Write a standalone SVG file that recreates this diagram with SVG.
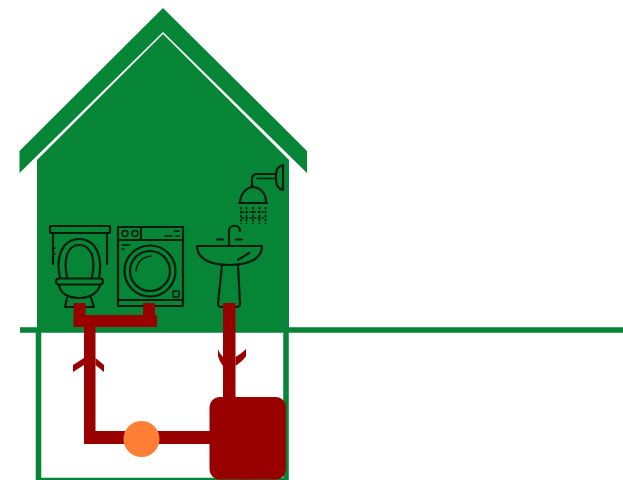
<svg xmlns="http://www.w3.org/2000/svg" width="623" height="480" viewBox="0 0 623 480">
<style>
.g{fill:#068536}
.ln{fill:none;stroke:#068536;stroke-width:5.5}
.p{fill:#990000}
.i{fill:none;stroke:#021a0b;stroke-width:2.200;stroke-linejoin:round;stroke-linecap:round}
.t{fill:none;stroke:#021a0b;stroke-width:1.500;stroke-linecap:round}
</style>
<rect width="623" height="480" fill="#fff"/>
<g id="house">
<polygon class="g" points="163,8 307,151 307,173 163,32 19.500,173 19.500,151"/>
<polygon class="g" points="163,34 289,160 289,330 37,330 37,160"/>
</g>
<g id="ground">
<path class="ln" d="M20 330H623"/>
<path class="ln" d="M38.500 330V480.500H286V330"/>
</g>
<g id="toilet">
<rect class="i" x="50" y="226" width="60" height="7" rx="1"/>
<path class="i" d="M53 233V264M107 233V264"/>
<path class="t" d="M53 248H55M53 254H55"/>
<path class="i" d="M60 278C55 256 63 239 79 239C96 239 103 256 99 278"/>
<path class="i" d="M67 277C63 258 68 245 79 245C91 245 96 258 92 277"/>
<rect class="i" x="56" y="278.500" width="47" height="6" rx="3"/>
<path class="i" d="M59 285C60 293 68 298 79 298C90 298 98 293 100 285"/>
<path class="i" d="M67 298L65 307H94L91 298"/>
</g>
<g id="washer">
<rect class="i" x="118" y="227" width="65" height="79"/>
<path class="i" d="M118 240H183M118 300H183M141 227V240"/>
<circle class="t" cx="125" cy="233.500" r="3"/>
<circle class="t" cx="135" cy="233.500" r="3"/>
<path class="t" d="M165 236H172M176 236H179M174 231H179M122 245H130M122 249H124"/>
<circle class="i" cx="150" cy="271" r="25.500"/>
<circle class="i" cx="150" cy="271" r="20"/>
<path class="t" d="M136 271C137 262 143 257 151 256"/>
<rect class="t" x="173" y="291" width="6" height="6" rx="1"/>
</g>
<g id="sink">
<path class="i" d="M197 246H262C262 258 250 265 229 265C209 265 197 258 197 246Z"/>
<path class="i" d="M222 265L218 304Q218 307 222 307H236Q240 307 240 304L238 265"/>
<path class="i" d="M229 245V231C229 224 240 224 240 231"/>
<path class="i" d="M217 239.500H223M236 239.500H242M238 260L249 253"/>
</g>
<g id="shower">
<path class="i" d="M239 203H267M240 202C241 192 248 187 253 187C259 187 266 192 266 202"/>
<path class="i" d="M252 186V180Q252 174 257 174H276"/>
<path class="t" d="M257 178.500H276"/>
<path class="i" d="M276 174Q276 167 283 165V190Q276 188 276 180Z"/>
<path d="M241 207V224M246.500 207V224M253 207V224M259.500 207V224M265.500 207V224" fill="none" stroke="#021a0b" stroke-width="1.600" stroke-dasharray="2.500 1.500"/>
<path class="t" d="M242 212H265M242 218H265" stroke-dasharray="1.500 2.500"/>
</g>
<g id="connectors">
<path class="p" d="M73.500 303H85.500V315H143V303H155V315H157V327H95.500V431H215V444H84V327H73.500Z"/>
<rect class="p" x="223" y="303" width="12.500" height="100"/>
<path class="p" d="M84 358L73 365V372L84 365ZM95.500 358L104 365V372L95.500 365Z"/>
<path class="p" d="M223 357C221 355 219 352 218 349V356C219 360 221 363 223 366ZM235.500 357C239 355 243 352 246 349V356C243 361 239 363 235.500 366Z"/>
</g>
<g id="tank">
<rect class="p" x="209.500" y="397" width="47" height="82.500" rx="10"/>
<rect class="p" x="238.500" y="397" width="47.500" height="82.500" rx="10"/>
</g>
<g id="pump"><circle cx="141.500" cy="439" r="18" fill="#ff7f36"/></g>
</svg>
